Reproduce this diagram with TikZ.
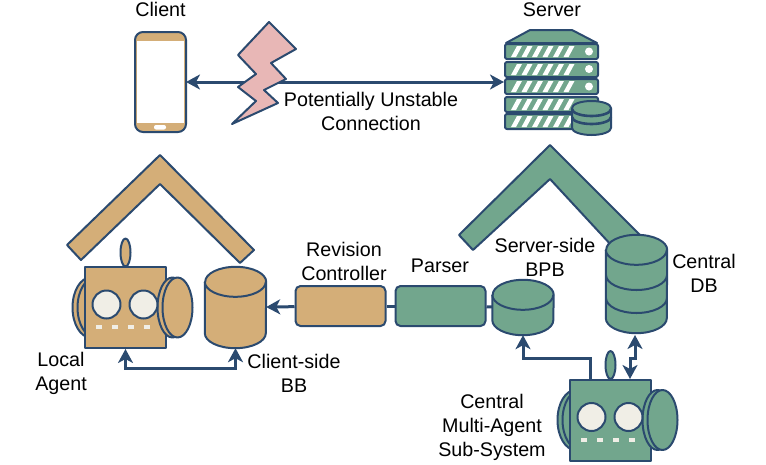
\documentclass[tikz,border=0pt]{standalone}
\usepackage{fontspec}
\setmainfont{Liberation Sans}
\usepackage{tikz}
\usetikzlibrary{positioning}
\usetikzlibrary{arrows.meta}
\definecolor{navy}{HTML}{2B4A6F}
\definecolor{sand}{HTML}{D4AE78}
\definecolor{sage}{HTML}{72A68D}
\definecolor{blush}{HTML}{E8B7B6}
\definecolor{cream}{HTML}{F0EEE6}
\tikzset{
	outline/.style={draw=navy,line width=2pt,line join=round},
	flow/.style={draw=navy,line width=3pt,arrows={-}},
	tipped/.style={-{Stealth[length=14pt,width=15pt,inset=4pt]}},
	bothtipped/.style={{Stealth[length=14pt,width=15pt,inset=4pt]}-{Stealth[length=14pt,width=15pt,inset=4pt]}},
	stagebox/.style={outline,rounded corners=5pt,minimum width=90pt,minimum height=40pt,inner sep=0pt},
	caption/.style={align=center,font=\fontsize{19.7}{24}\selectfont,inner sep=0pt},
	botfig/.pic={
		\draw[outline,fill=#1] (-35,0) ellipse (18 and 30);
		\draw[outline,fill=#1] (-30,0) ellipse (18 and 30);
		\draw[outline,fill=#1] (0,-55) ellipse (5 and 14);
		\node[outline,fill=#1,minimum size=81pt,inner sep=0pt] (body) at (0,0) {};
		\draw[outline,fill=#1] (47,0) ellipse (15 and 30);
		\draw[outline,fill=#1] (52,0) ellipse (15 and 30);
		\draw[outline,fill=cream] (-19,-3) circle (14);
		\draw[outline,fill=cream] (18,-3) circle (14);
		\foreach \dx in {-27,-11,5,21}
			\fill[cream] (\dx-3,17.5) rectangle (\dx+3,21.5);
	},
}
% name, centre, height, fill
\newcommand{\dbtank}[4]{
	\node[minimum width=61pt,minimum height=#3pt,inner sep=0pt] (#1) at (#2) {};
	\draw[outline,fill=#4] ([yshift=-15pt]#1.north west) -- ([yshift=15pt]#1.south west)
		arc[start angle=180,end angle=0,x radius=30.5,y radius=15] -- ([yshift=-15pt]#1.north east)
		arc[start angle=0,end angle=-180,x radius=30.5,y radius=15];
	\draw[outline] ([yshift=-15pt]#1.north west) arc[start angle=180,end angle=0,x radius=30.5,y radius=15];
}
\begin{document}
\begin{tikzpicture}[x=1pt,y=-1pt]
	\useasboundingbox (0,0) rectangle (766,464);

	% link between client and server
	\coordinate (linkleft) at (186,82);
	\coordinate (linkright) at (504,82);
	\draw[flow,bothtipped] (linkleft) -- (linkright);
	\draw[outline,fill=blush] (269,22) -- (296,49) -- (271,63) -- (286,79) -- (264,90) -- (278,103) -- (232,124) -- (256,101) -- (238,87) -- (256,74) -- (238,55) -- cycle;
	\node[caption] (linklabel) at (371,111) {Potentially Unstable\\Connection};

	% client phone
	\node[outline,fill=sand,rounded corners=8pt,minimum width=51pt,minimum height=100pt,inner sep=0pt] (phone) at (160.5,82) {};
	\fill[white] (137,41) rectangle (184,123);
	\fill[white,rounded corners=2pt] (154,125) rectangle (166,129.5);
	\node[caption,above=14pt of phone] (clientlabel) {Client};

	% server rack
	\draw[outline,fill=sage] (506,43) -- (530,30) -- (572,30) -- (597,43) -- cycle;
	\foreach \ry in {44,62,79,97,114} {
		\draw[outline,fill=sage,rounded corners=2pt] (505,\ry) rectangle (598,\ry+15);
		\foreach \sx in {0,1,2,3,4,5}
			\fill[white] (511+\sx*10.5,\ry+13) -- (516+\sx*10.5,\ry+13) -- (522+\sx*10.5,\ry+2) -- (517+\sx*10.5,\ry+2) -- cycle;
	}
	\foreach \ry in {51.5,69,86.5}
		\fill[white] (589,\ry) circle (4);
	\draw[outline,fill=sage] (572,108) -- (572,128) arc[start angle=180,end angle=0,x radius=19.5,y radius=7] -- (611,108) arc[start angle=0,end angle=-180,x radius=19.5,y radius=7];
	\draw[outline,line width=2.6pt] (572,109) arc[start angle=180,end angle=0,x radius=19.5,y radius=7];
	\draw[outline,line width=2.6pt] (572,117) arc[start angle=180,end angle=0,x radius=19.5,y radius=7];
	\node[caption] (serverlabel) at (552,10) {Server};

	% roofs
	\draw[outline,fill=sand] (67,245) -- (160,155) -- (254,250) -- (240,263) -- (160,184) -- (81,260) -- cycle;
	\draw[outline,fill=sage] (459,235) -- (550,145) -- (645,240) -- (625,260) -- (550,179) -- (473,250) -- cycle;

	% local side
	\pic (local) at (125.5,307.5) {botfig=sand};
	\dbtank{clientbb}{235.5,307.5}{81}{sand}
	\node[stagebox,fill=sand] (revision) at (340.5,306) {};
	\node[stagebox,fill=sage] (parser) at (440.5,306) {};
	\dbtank{serverbpb}{523,307.5}{55}{sage}
	\draw[flow] (parser) -- (revision);
	\draw[flow] (serverbpb) -- (parser);
	\draw[flow,tipped] (revision) -- (clientbb);

	% central db
	\dbtank{centraldb}{636.5,284}{98}{sage}
	\draw[outline] (606,275) arc[start angle=180,end angle=0,x radius=30.5,y radius=15];
	\draw[outline] (606,298) arc[start angle=180,end angle=0,x radius=30.5,y radius=15];

	% central agent
	\pic (central) at (610.5,420) {botfig=sage};

	% agent links
	\draw[flow,bothtipped] (localbody.south) -- ++(0,19) -| (clientbb.south);
	\coordinate (bpbstart) at (590,380);
	\draw[flow,tipped] (bpbstart) |- (523,358) -- (serverbpb.south);
	\coordinate (dbstart) at (630,379);
	\coordinate (dbend) at (635,335);
	\draw[flow,bothtipped] (dbstart) |- (635,358) -- (dbend);

	% labels
	\node[caption] (agentlabel) at (61,373) {Local\\Agent};
	\node[caption] (bblabel) at (294,373) {Client-side\\BB};
	\node[caption] (revisionlabel) at (344,261) {Revision\\Controller};
	\node[caption] (parserlabel) at (440,266) {Parser};
	\node[caption] (bpblabel) at (545,257) {Server-side\\BPB};
	\node[caption] (dblabel) at (704,273) {Central\\DB};
	\node[caption] (centrallabel) at (492,427) {Central\\Multi-Agent\\Sub-System};
\end{tikzpicture}
\end{document}
